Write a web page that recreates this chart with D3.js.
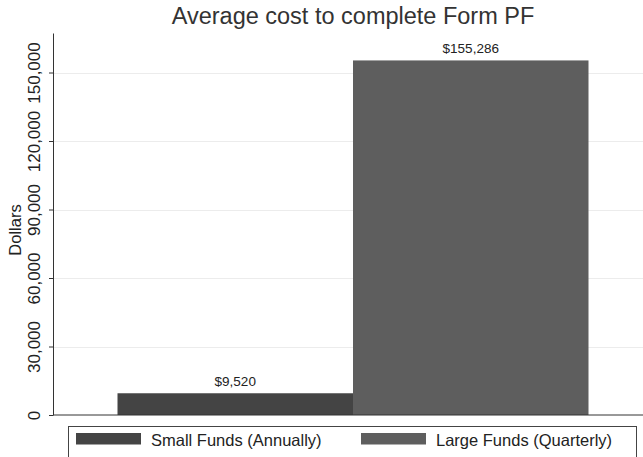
<!DOCTYPE html>
<html>
<head>
<meta charset="utf-8">
<script src="https://cdn.jsdelivr.net/npm/d3@7"></script>
<style>
  body { margin: 0; background: #fff; }
  svg { display: block; font-family: "Liberation Sans", Arial, sans-serif; }
</style>
</head>
<body>
<svg id="chart" width="643" height="457"></svg>
<script>
// Daten
const categories = ["Small Funds (Annually)", "Large Funds (Quarterly)"];
const costs = [9520, 155286];
const valueLabels = ["$9,520", "$155,286"];
const barColors = ["#444444", "#5e5e5e"];
const yTicks = [0, 30000, 60000, 90000, 120000, 150000];

const svg = d3.select("#chart");

const x = d3.scaleBand()
  .domain(categories)
  .range([117.5, 588.5])
  .padding(0);

const y = d3.scaleLinear()
  .domain([0, 167300])
  .range([415, 33]);

// Gitterlinien
svg.append("g")
  .selectAll("line")
  .data(yTicks.filter(d => d > 0))
  .join("line")
  .attr("x1", 53)
  .attr("x2", 643)
  .attr("y1", d => Math.round(y(d)) + 0.5)
  .attr("y2", d => Math.round(y(d)) + 0.5)
  .attr("stroke", "#ececec")
  .attr("stroke-width", 1);

// Balken
svg.append("g")
  .selectAll("rect")
  .data(costs)
  .join("rect")
  .attr("x", (d, i) => x(categories[i]))
  .attr("y", d => y(d))
  .attr("width", x.bandwidth())
  .attr("height", d => y(0) - y(d))
  .attr("fill", (d, i) => barColors[i]);

// Wertelabels
svg.append("g")
  .selectAll("text")
  .data(costs)
  .join("text")
  .attr("x", (d, i) => x(categories[i]) + x.bandwidth() / 2)
  .attr("y", d => y(d) - 7.5)
  .attr("text-anchor", "middle")
  .attr("font-size", "13.5px")
  .attr("fill", "#222")
  .text((d, i) => valueLabels[i]);

// Y-Achse
const yAxis = svg.append("g")
  .attr("transform", "translate(53,0)")
  .call(d3.axisLeft(y).tickValues(yTicks).tickSize(4).tickSizeOuter(0).tickFormat(d3.format(",")));

yAxis.select(".domain").attr("stroke", "#333");
yAxis.selectAll(".tick line").attr("stroke", "#333");
yAxis.selectAll(".tick text")
  .attr("transform", "translate(-13.5,0) rotate(-90)")
  .attr("x", 0)
  .attr("y", 0)
  .attr("dy", 0)
  .attr("text-anchor", "middle")
  .attr("font-size", "17px")
  .attr("font-family", "Liberation Sans, Arial, sans-serif")
  .attr("fill", "#222");

// X-Achsenlinie
svg.append("line")
  .attr("x1", 53)
  .attr("x2", 643)
  .attr("y1", y(0))
  .attr("y2", y(0))
  .attr("stroke", "#333");

// Achsentitel
svg.append("text")
  .attr("transform", "translate(20.5, 230) rotate(-90)")
  .attr("text-anchor", "middle")
  .attr("font-size", "16.5px")
  .attr("fill", "#222")
  .text("Dollars");

// Titel
svg.append("text")
  .attr("x", 353)
  .attr("y", 24)
  .attr("text-anchor", "middle")
  .attr("font-size", "23.5px")
  .attr("fill", "#333")
  .text("Average cost to complete Form PF");

// Legende
const legend = svg.append("g");
legend.append("rect")
  .attr("x", 68.5)
  .attr("y", 426.5)
  .attr("width", 568)
  .attr("height", 40)
  .attr("fill", "#fff")
  .attr("stroke", "#444");

const legendX = [76, 361];
const items = legend.selectAll("g.item")
  .data(categories)
  .join("g")
  .attr("class", "item")
  .attr("transform", (d, i) => `translate(${legendX[i]}, 433)`);

items.append("rect")
  .attr("width", 65)
  .attr("height", 11.5)
  .attr("fill", (d, i) => barColors[i]);

items.append("text")
  .attr("x", 75)
  .attr("y", 12.5)
  .attr("font-size", "16.5px")
  .attr("fill", "#222")
  .text(d => d);
</script>
</body>
</html>
